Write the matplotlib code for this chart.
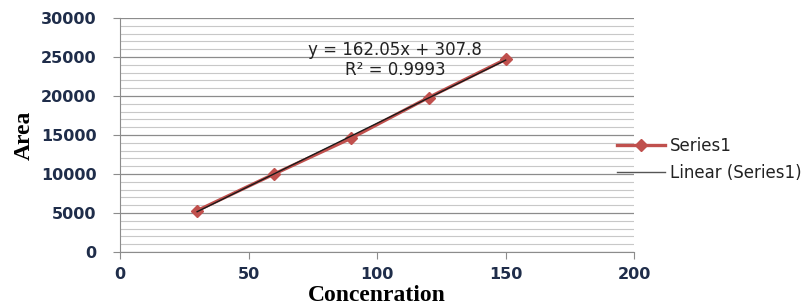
import numpy as np
import matplotlib
matplotlib.use("Agg")
import matplotlib.pyplot as plt
from matplotlib.lines import Line2D
from matplotlib.ticker import MultipleLocator

conc = [30, 60, 90, 120, 150]
area = [5300, 10000, 14600, 19800, 24700]
eq_text = "y = 162.05x + 307.8"
r2_text = "R² = 0.9993"

fig = plt.figure(figsize=(8.11, 3.05), dpi=100)
ax = fig.add_axes([0.148, 0.174, 0.634, 0.767])

ax.plot(conc, area, color="#c0504d", lw=2.4, marker="D", ms=6.5, zorder=3)
k, b = np.polyfit(conc, area, 1)
xs = np.array([conc[0], conc[-1]])
ax.plot(xs, k * xs + b, color="#1a1a1a", lw=1.0, zorder=4)

ax.set_xlim(0, 200)
ax.set_ylim(0, 30000)
ax.xaxis.set_major_locator(MultipleLocator(50))
ax.yaxis.set_major_locator(MultipleLocator(5000))
ax.yaxis.set_minor_locator(MultipleLocator(1000))
ax.grid(axis="y", which="major", color="#8c8c8c", lw=0.9)
ax.grid(axis="y", which="minor", color="#c8c8c8", lw=0.8)
ax.set_axisbelow(True)
for s in ["top", "right"]:
    ax.spines[s].set_visible(False)
for s in ["left", "bottom"]:
    ax.spines[s].set_color("#8c8c8c")
ax.tick_params(which="major", direction="out", color="#8c8c8c", length=5,
               labelsize=11.5, labelcolor="#1f2d4a")
ax.tick_params(axis="y", which="minor", length=0)
for lab in ax.get_xticklabels() + ax.get_yticklabels():
    lab.set_fontweight("bold")
ax.tick_params(axis="y", pad=12)
ax.tick_params(axis="x", pad=6)

ax.set_xlabel("Concenration", family="Liberation Serif", fontweight="bold", fontsize=17, labelpad=2)
ax.set_ylabel("Area", family="Liberation Serif", fontweight="bold", fontsize=17, labelpad=4)

ax.text(0.535, 0.82, eq_text + "\n" + r2_text, transform=ax.transAxes, ha="center",
        va="center", fontsize=12, color="#222222", linespacing=1.15, zorder=5)

handles = [Line2D([], [], color="#c0504d", lw=2.4, marker="D", ms=6.5),
           Line2D([], [], color="#555555", lw=1.0)]
fig.legend(handles, ["Series1", "Linear (Series1)"], loc="center left",
           bbox_to_anchor=(0.742, 0.478), frameon=False, fontsize=12,
           handlelength=2.9, labelspacing=0.55, handletextpad=0.3,
           labelcolor="#222222")

fig.savefig("out.png", dpi=100)
